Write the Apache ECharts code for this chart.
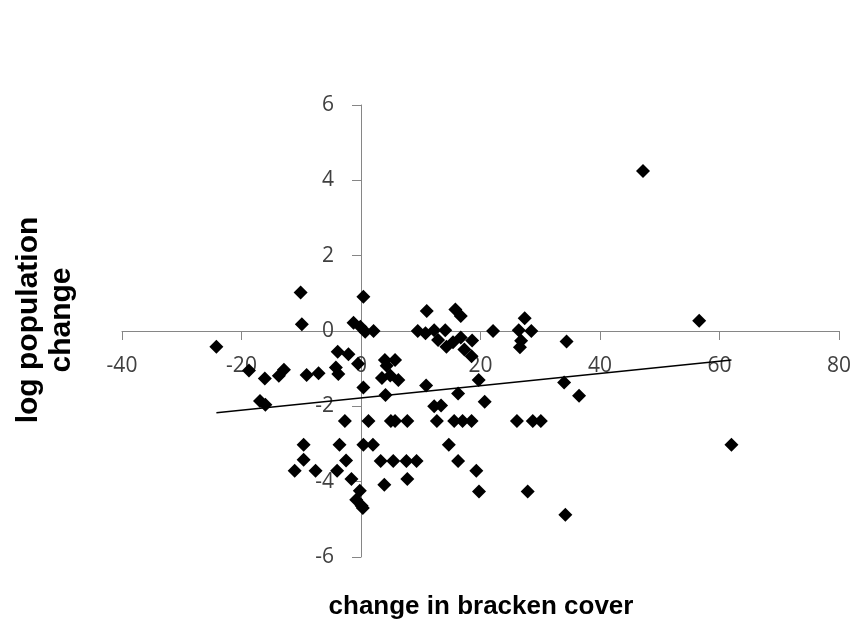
<!DOCTYPE html>
<html>
<head>
<meta charset="utf-8">
<script src="https://cdn.jsdelivr.net/npm/echarts@6/dist/echarts.min.js"></script>
<style>html,body{margin:0;padding:0;background:#fff;}#c{width:866px;height:635px;}</style>
</head>
<body>
<div id="c"></div>
<script>
var xValues = [-10.1,-9.9,0.4,-24.2,-1.25,-0.1,0.7,2.1,-3.9,-2.1,-0.5,-4.2,-3.8,-18.75,-16.1,-13.75,-12.9,-9.1,-7.1,0.4,-16.9,-16.0,4.0,5.7,4.3,3.5,4.9,6.25,4.1,11,15.8,16.7,9.5,10.8,12.25,12.9,14.1,14.3,15.4,16.7,17.3,18.6,18.5,22.1,26.4,27.4,28.5,26.8,26.6,34.4,10.9,16.25,19.7,20.7,34.0,36.5,12.25,13.4,47.2,56.6,62.0,-2.7,1.25,5.0,5.7,7.75,12.7,15.6,17.0,18.5,26.1,28.75,30.1,-9.6,-3.6,0.4,2.0,14.7,-9.6,-2.5,3.3,5.4,7.6,9.3,16.25,-11.1,-7.6,-4.0,19.3,-1.6,7.75,3.9,-0.2,19.75,27.9,-0.8,0.1,0.3,34.2];
var yValues = [1.02,0.18,0.91,-0.42,0.22,0.11,-0.02,0,-0.55,-0.62,-0.87,-0.97,-1.14,-1.05,-1.26,-1.19,-1.03,-1.17,-1.12,-1.5,-1.86,-1.96,-0.77,-0.77,-0.92,-1.25,-1.18,-1.3,-1.7,0.53,0.57,0.4,0,-0.06,0.02,-0.24,0.02,-0.42,-0.3,-0.17,-0.49,-0.25,-0.67,0,0.02,0.34,0,-0.26,-0.43,-0.28,-1.45,-1.66,-1.3,-1.88,-1.37,-1.72,-2.0,-1.98,4.25,0.27,-3.02,-2.39,-2.39,-2.39,-2.39,-2.39,-2.39,-2.39,-2.39,-2.39,-2.39,-2.39,-2.39,-3.02,-3.02,-3.02,-3.02,-3.02,-3.42,-3.44,-3.45,-3.45,-3.45,-3.45,-3.45,-3.71,-3.71,-3.71,-3.71,-3.93,-3.93,-4.08,-4.24,-4.26,-4.26,-4.48,-4.64,-4.70,-4.88];
var trendX = [-24.2, 62.0];
var trendY = [-2.17, -0.77];
var xTitle = 'change in bracken cover';
var yTitle = 'log population\nchange';
var xMin = -40, xMax = 80, xStep = 20;
var yMin = -6, yMax = 6, yStep = 2;

var points = xValues.map(function (x, i) { return [x, yValues[i]]; });
var trend = trendX.map(function (x, i) { return [x, trendY[i]]; });

var W = 866, H = 635;
var gridL = 122, gridR = 27, gridT = 105, gridB = 78;
var gw = W - gridL - gridR, gh = H - gridT - gridB;
// place axes at the zero crossing of the other axis
var xAxisOffset = -gh * (0 - yMin) / (yMax - yMin);
var yAxisOffset = -gw * (0 - xMin) / (xMax - xMin);

var chart = echarts.init(document.getElementById('c'));
var axisColor = '#868686';
var labelStyle = { color: '#404040', fontSize: 21, fontFamily: 'Open Sans' };
chart.setOption({
  animation: false,
  backgroundColor: '#ffffff',
  grid: { left: gridL, right: gridR, top: gridT, bottom: gridB, containLabel: false },
  xAxis: {
    type: 'value', min: xMin, max: xMax, interval: xStep,
    position: 'bottom', offset: xAxisOffset,
    axisLine: { onZero: false, lineStyle: { color: axisColor, width: 1 } },
    axisTick: { show: true, length: 9, inside: false, lineStyle: { color: axisColor } },
    axisLabel: Object.assign({ margin: 25 }, labelStyle),
    splitLine: { show: false }
  },
  yAxis: {
    type: 'value', min: yMin, max: yMax, interval: yStep,
    position: 'left', offset: yAxisOffset,
    axisLine: { show: true, onZero: false, lineStyle: { color: axisColor, width: 1 } },
    axisTick: { show: true, length: 9, inside: false, lineStyle: { color: axisColor } },
    axisLabel: Object.assign({ margin: 27 }, labelStyle),
    splitLine: { show: false }
  },
  graphic: [
    { type: 'text', x: 481, y: 607,
      style: { text: xTitle, font: 'bold 26px "Liberation Sans"', fill: '#000', textAlign: 'center', textVerticalAlign: 'middle' } },
    { type: 'text', x: 45, y: 320, rotation: Math.PI / 2,
      style: { text: yTitle, font: 'bold 30px "Liberation Sans"', fill: '#000', textAlign: 'center', textVerticalAlign: 'middle', lineHeight: 33 } }
  ],
  series: [
    { type: 'line', data: trend, symbol: 'none', lineStyle: { color: '#000', width: 1.3 }, z: 3 },
    { type: 'scatter', data: points, symbol: 'diamond', symbolSize: 14, itemStyle: { color: '#000', opacity: 1 }, z: 4 }
  ]
});
</script>
</body>
</html>
